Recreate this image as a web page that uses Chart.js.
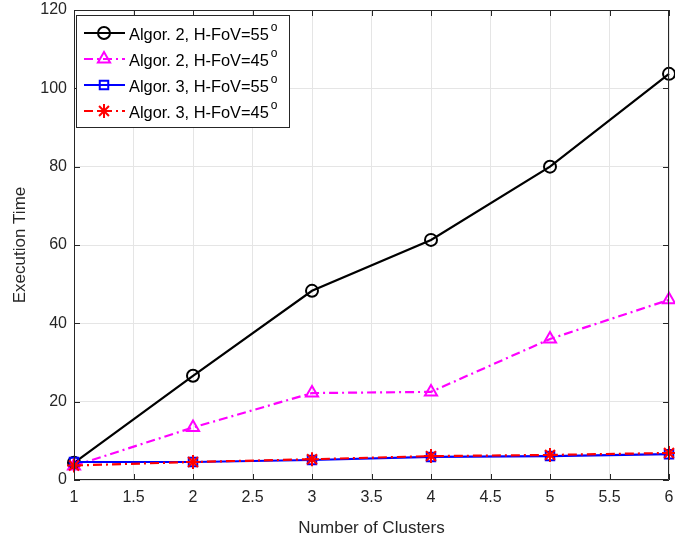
<!DOCTYPE html>
<html>
<head>
<meta charset="utf-8">
<style>
  html, body { margin: 0; padding: 0; background: #fff; }
  #wrap { width: 675px; height: 542px; }
</style>
</head>
<body>
<div id="wrap">
  <canvas id="execChart" width="675" height="542"></canvas>
</div>

<script src="https://cdn.jsdelivr.net/npm/chart.js"></script>
<script>
  const clusters = [1, 2, 3, 4, 5, 6];
  const alg2Fov55 = [4.4, 26.6, 48.3, 61.3, 80.0, 103.7];
  const alg2Fov45 = [3.6, 13.4, 22.2, 22.5, 36.0, 46.0];
  const alg3Fov55 = [4.6, 4.6, 5.1, 5.9, 6.1, 6.6];
  const alg3Fov45 = [3.7, 4.6, 5.3, 6.1, 6.4, 6.9];
  const seriesNames = ['Algor. 2, H-FoV=55', 'Algor. 2, H-FoV=45', 'Algor. 3, H-FoV=55', 'Algor. 3, H-FoV=45'];

  const FONT = '"Liberation Sans", Arial, Helvetica, sans-serif';
  const dashDot = [9, 4, 2, 4];

  function toPoints(values) {
    return clusters.map((c, i) => ({ x: c, y: values[i] }));
  }

  const styles = [
    { color: '#000000', dash: [], marker: 'circle', radius: 6 },
    { color: '#ff00ff', dash: dashDot, marker: 'triangle', radius: 7 },
    { color: '#0000ff', dash: [], marker: 'rect', radius: 6 },
    { color: '#ff0000', dash: dashDot, marker: 'star', radius: 7 }
  ];
  const seriesData = [alg2Fov55, alg2Fov45, alg3Fov55, alg3Fov45];

  const datasets = seriesData.map((vals, i) => ({
    label: seriesNames[i],
    data: toPoints(vals),
    borderColor: styles[i].color,
    borderWidth: 2.2,
    borderDash: styles[i].dash,
    pointStyle: styles[i].marker,
    pointRadius: styles[i].radius,
    pointBorderWidth: 2,
    pointBorderColor: styles[i].color,
    pointBackgroundColor: 'rgba(0,0,0,0)',
    tension: 0,
    fill: false,
    clip: false,
    order: 4 - i   // later series drawn on top
  }));

  // box around the axes plus inward tick marks on every side
  const axesBox = {
    id: 'axesBox',
    afterDatasetsDraw(chart) {
      const { ctx, chartArea: a, scales } = chart;
      ctx.save();
      ctx.strokeStyle = '#262626';
      ctx.lineWidth = 1;
      ctx.beginPath();
      ctx.rect(a.left + 0.5, a.top + 0.5, a.right - a.left - 1, a.bottom - a.top - 1);
      ctx.stroke();
      const len = 6;
      ctx.beginPath();
      scales.x.ticks.forEach(t => {
        const px = Math.round(scales.x.getPixelForValue(t.value)) + 0.5;
        ctx.moveTo(px, a.bottom); ctx.lineTo(px, a.bottom - len);
        ctx.moveTo(px, a.top); ctx.lineTo(px, a.top + len);
      });
      scales.y.ticks.forEach(t => {
        const py = Math.round(scales.y.getPixelForValue(t.value)) + 0.5;
        ctx.moveTo(a.left, py); ctx.lineTo(a.left + len, py);
        ctx.moveTo(a.right, py); ctx.lineTo(a.right - len, py);
      });
      ctx.stroke();
      ctx.restore();
    }
  };

  // legend: line style + marker + label with degree superscript
  const boxLegend = {
    id: 'boxLegend',
    afterDraw(chart) {
      const ctx = chart.ctx;
      const x0 = 76, y0 = 15, w = 213, h = 112;
      ctx.save();
      ctx.fillStyle = '#ffffff';
      ctx.fillRect(x0, y0, w, h);
      ctx.strokeStyle = '#262626';
      ctx.lineWidth = 1;
      ctx.strokeRect(x0 + 0.5, y0 + 0.5, w, h);
      const rowY = [33, 59, 85, 111];
      chart.data.datasets.forEach((ds, i) => {
        const y = rowY[i];
        ctx.strokeStyle = ds.borderColor;
        ctx.lineWidth = 2;
        ctx.setLineDash(ds.borderDash);
        ctx.beginPath();
        ctx.moveTo(84, y);
        ctx.lineTo(125, y);
        ctx.stroke();
        ctx.setLineDash([]);
        ctx.fillStyle = 'rgba(0,0,0,0)';
        Chart.helpers.drawPoint(ctx, {
          pointStyle: ds.pointStyle,
          radius: ds.pointRadius,
          borderWidth: 2,
          rotation: 0
        }, 104, y);
        ctx.fillStyle = '#000';
        ctx.font = '16.4px ' + FONT;
        ctx.textBaseline = 'middle';
        ctx.textAlign = 'left';
        ctx.fillText(ds.label, 129, y + 2);
        const tw = ctx.measureText(ds.label).width;
        ctx.font = '12px ' + FONT;
        ctx.fillText('o', 129 + tw + 2, y - 5);
      });
      ctx.restore();
    }
  };

  new Chart(document.getElementById('execChart').getContext('2d'), {
    type: 'line',
    data: { datasets: datasets },
    options: {
      responsive: false,
      animation: false,
      layout: { autoPadding: false, padding: { top: 10, right: 6, left: 0, bottom: 0 } },
      plugins: {
        legend: { display: false },
        tooltip: { enabled: false }
      },
      scales: {
        x: {
          type: 'linear',
          min: 1,
          max: 6,
          ticks: {
            stepSize: 0.5,
            color: '#262626',
            font: { family: FONT, size: 16 },
            padding: 8,
            maxRotation: 0,
            callback: v => String(v)
          },
          grid: { color: '#e5e5e5', drawTicks: false },
          border: { display: false },
          title: {
            display: true,
            text: 'Number of Clusters',
            color: '#262626',
            font: { family: FONT, size: 17 },
            padding: { top: 4, bottom: 3 }
          },
          afterFit(scale) {
            scale.height = 62;
            scale.paddingLeft = 0;
            scale.paddingRight = 0;
          }
        },
        y: {
          min: 0,
          max: 120,
          ticks: {
            stepSize: 20,
            color: '#262626',
            font: { family: FONT, size: 16 },
            padding: 7
          },
          grid: { color: '#e5e5e5', drawTicks: false },
          border: { display: false },
          title: {
            display: true,
            text: 'Execution Time',
            color: '#262626',
            font: { family: FONT, size: 17 },
            padding: { top: 10, bottom: 4 }
          },
          afterFit(scale) {
            scale.width = 74;
            scale.paddingTop = 0;
            scale.paddingBottom = 0;
          }
        }
      }
    },
    plugins: [axesBox, boxLegend]
  });
</script>
</body>
</html>
